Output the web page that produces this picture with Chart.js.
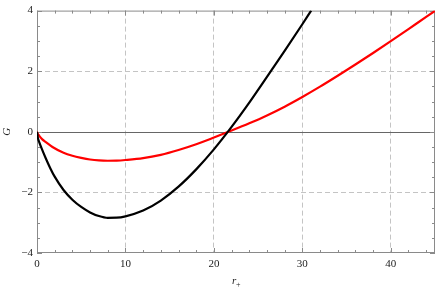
<!DOCTYPE html>
<html>
<head>
<meta charset="utf-8">
<script src="https://cdn.jsdelivr.net/npm/chart.js@4.4.0/dist/chart.umd.min.js"></script>
<style>
  html, body { margin: 0; padding: 0; background: #fff; }
</style>
</head>
<body>
<canvas id="gChart" width="436" height="290"></canvas>
<script>
// values
const blackR = [0, 0.1, 0.25, 0.5, 1, 1.5, 2, 3, 4, 5, 6, 7, 8, 9, 10, 12, 14, 16, 18, 20, 22, 24, 26, 28, 30, 31];
const blackG = [0, -0.2, -0.34, -0.53, -0.88, -1.2, -1.48, -1.92, -2.24, -2.48, -2.66, -2.78, -2.84, -2.835, -2.79, -2.6, -2.27, -1.81, -1.24, -0.58, 0.16, 0.96, 1.81, 2.67, 3.55, 4.0];

const redR = [0, 0.1, 0.25, 0.6, 1, 1.75, 3, 4, 5, 6, 7, 8, 9, 10, 12, 14, 16, 18, 20, 22, 24, 26, 28, 30, 32, 34, 36, 38, 40, 42, 44, 45];
const redG = [0, -0.07, -0.13, -0.25, -0.34, -0.5, -0.69, -0.79, -0.86, -0.915, -0.945, -0.955, -0.95, -0.93, -0.87, -0.76, -0.6, -0.41, -0.19, 0.04, 0.28, 0.54, 0.83, 1.15, 1.49, 1.85, 2.22, 2.6, 2.99, 3.39, 3.79, 3.99];

const xTicks = [0, 10, 20, 30, 40];
const yTicks = [-4, -2, 0, 2, 4];
const xMinorStep = 2;
const yMinorStep = 0.5;

const serif = '"Liberation Serif", "DejaVu Serif", serif';

function toPoints(xs, ys) {
    return xs.map((v, i) => ({ x: v, y: ys[i] }));
}

// frame, inner tick marks, zero axis and axis titles (Mathematica style)
const framePlugin = {
    id: 'frame',
    beforeDatasetsDraw(chart) {
        const { ctx, chartArea: a, scales: { x, y } } = chart;
        ctx.save();
        ctx.lineWidth = 1;

        const y0 = Math.round(y.getPixelForValue(0)) + 0.5;
        ctx.strokeStyle = '#666666';
        ctx.beginPath();
        ctx.moveTo(a.left, y0);
        ctx.lineTo(a.right, y0);
        ctx.stroke();

        ctx.strokeStyle = '#8a8a8a';
        ctx.strokeRect(a.left + 0.5, a.top + 0.5, a.right - a.left - 1, a.bottom - a.top - 1);

        ctx.beginPath();
        for (let v = x.min; v <= x.max + 1e-9; v += xMinorStep) {
            const px = Math.round(x.getPixelForValue(v)) + 0.5;
            const len = xTicks.includes(v) ? 5 : 3;
            ctx.moveTo(px, a.bottom);
            ctx.lineTo(px, a.bottom - len);
            ctx.moveTo(px, a.top);
            ctx.lineTo(px, a.top + len);
        }
        for (let v = y.min; v <= y.max + 1e-9; v += yMinorStep) {
            const py = Math.round(y.getPixelForValue(v)) + 0.5;
            const len = yTicks.includes(v) ? 5 : 3;
            ctx.moveTo(a.left, py);
            ctx.lineTo(a.left + len, py);
            ctx.moveTo(a.right, py);
            ctx.lineTo(a.right - len, py);
        }
        ctx.stroke();
        ctx.restore();
    },
    afterDraw(chart) {
        const { ctx, chartArea: a } = chart;
        ctx.save();
        ctx.fillStyle = '#222';
        ctx.font = 'italic 11px ' + serif;
        ctx.textAlign = 'center';
        ctx.textBaseline = 'middle';

        // y title
        ctx.save();
        ctx.translate(7, (a.top + a.bottom) / 2);
        ctx.rotate(-Math.PI / 2);
        ctx.fillText('G', 0, 0);
        ctx.restore();

        // x title r with subscript +
        const cx = (a.left + a.right) / 2;
        ctx.textAlign = 'left';
        ctx.textBaseline = 'alphabetic';
        ctx.fillText('r', cx - 4, 284);
        ctx.font = '8px ' + serif;
        ctx.fillText('+', cx, 287);
        ctx.restore();
    }
};

const ctx = document.getElementById('gChart').getContext('2d');

new Chart(ctx, {
    type: 'scatter',
    data: {
        datasets: [
            {
                label: 'G black',
                data: toPoints(blackR, blackG),
                showLine: true,
                borderColor: '#000000',
                borderWidth: 2.2,
                pointRadius: 0,
                cubicInterpolationMode: 'monotone'
            },
            {
                label: 'G red',
                data: toPoints(redR, redG),
                showLine: true,
                borderColor: '#ff0000',
                borderWidth: 2.2,
                pointRadius: 0,
                cubicInterpolationMode: 'monotone'
            }
        ]
    },
    options: {
        responsive: false,
        animation: false,
        devicePixelRatio: 1,
        layout: { padding: { top: 7, right: 1, left: 0, bottom: 0 } },
        plugins: {
            legend: { display: false },
            tooltip: { enabled: false }
        },
        scales: {
            x: {
                type: 'linear',
                min: 0,
                max: 45,
                afterBuildTicks: s => { s.ticks = xTicks.map(v => ({ value: v })); },
                afterFit: s => { s.height = 37; },
                border: { display: false, dash: [5, 3] },
                grid: {
                    drawTicks: false,
                    color: c => (c.tick && c.tick.value !== 0) ? '#c4c4c4' : 'rgba(0,0,0,0)',
                    lineWidth: 1
                },
                ticks: {
                    padding: 5,
                    color: '#222',
                    maxRotation: 0,
                    font: { family: serif, size: 11 },
                    callback: v => String(v)
                }
            },
            y: {
                type: 'linear',
                min: -4,
                max: 4,
                afterBuildTicks: s => { s.ticks = yTicks.map(v => ({ value: v })); },
                afterFit: s => { s.width = 37; },
                border: { display: false, dash: [5, 3] },
                grid: {
                    drawTicks: false,
                    color: c => (c.tick && Math.abs(c.tick.value) === 2) ? '#c4c4c4' : 'rgba(0,0,0,0)',
                    lineWidth: 1
                },
                ticks: {
                    padding: 4,
                    color: '#222',
                    font: { family: serif, size: 11 },
                    callback: v => (v < 0 ? '\u2212' + Math.abs(v) : String(v))
                }
            }
        }
    },
    plugins: [framePlugin]
});
</script>
</body>
</html>
